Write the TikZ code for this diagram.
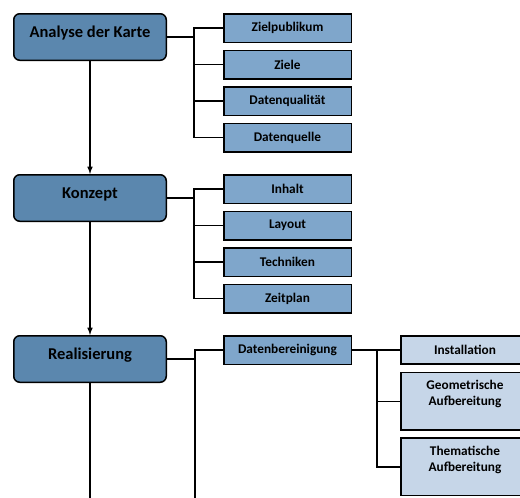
\documentclass[tikz,border=0pt]{standalone}
\usepackage{fontspec}
\setmainfont{Carlito}
\usetikzlibrary{shapes,positioning}
\definecolor{hauptblau}{RGB}{91,135,174}
\definecolor{teilblau}{RGB}{127,166,203}
\definecolor{hellblau}{RGB}{198,214,232}
\tikzstyle{haupt}=[rectangle, rounded corners=6pt, draw, line width=1.5pt, fill=hauptblau,
    minimum width=152.5pt, minimum height=46.5pt, text height=12pt, text depth=12pt,
    font=\fontsize{16.5}{20}\selectfont\bfseries]
\tikzstyle{teil}=[rectangle, draw, line width=1.5pt, fill=teilblau,
    minimum width=127.5pt, minimum height=28.5pt,
    font=\fontsize{13.3}{16}\selectfont\bfseries]
\tikzstyle{unter}=[rectangle, draw, line width=1.5pt, fill=hellblau, align=center,
    minimum width=128.5pt, minimum height=28pt,
    font=\fontsize{13.3}{16}\selectfont\bfseries]

\begin{document}
\begin{tikzpicture}[x=1pt,y=-1pt,line width=1.5pt]

        \useasboundingbox (0,0) rectangle (520,498);
        \clip (0,0) rectangle (520,498);
        \coordinate (unten) at (0,498);

        \node[haupt,
            anchor=north west] (analyse) at (13,13) {Analyse der Karte};

        \node[haupt,
            below=113pt of analyse] (konzept) {Konzept};

        \node[haupt,
            below=113pt of konzept] (realisierung) {Realisierung};

        % Analyse
        \node[teil,
            below right=0pt and 56pt of analyse.north east] (zielpublikum) {Zielpublikum};
        \node[teil,
            below=6.5pt of zielpublikum] (ziele) {Ziele};
        \node[teil,
            below=6.5pt of ziele] (datenqualitaet) {Datenqualität};
        \node[teil,
            below=6.5pt of datenqualitaet] (datenquelle) {Datenquelle};

        % Konzept
        \node[teil,
            below right=0pt and 56pt of konzept.north east] (inhalt) {Inhalt};
        \node[teil,
            below=6.5pt of inhalt] (layout) {Layout};
        \node[teil,
            below=6.5pt of layout] (techniken) {Techniken};
        \node[teil,
            below=6.5pt of techniken] (zeitplan) {Zeitplan};

        % Realisierung
        \node[teil,
            below right=0pt and 56pt of realisierung.north east] (datenbereinigung) {Datenbereinigung};
        \node[unter,
            right=48pt of datenbereinigung] (installation) {Installation};
        \node[unter,
            below=7pt of installation,
            minimum height=57.5pt] (geometrisch) {Geometrische\\Aufbereitung\\\mbox{}};
        \node[unter,
            below=6.5pt of geometrisch,
            minimum height=57.5pt] (thematisch) {Thematische\\Aufbereitung\\\mbox{}};

% Arrows
        \draw[-latex] (analyse) -- (konzept);
        \draw[-latex] (konzept) -- (realisierung);
        \draw (realisierung) -- (realisierung.south |- unten);

        \draw (analyse.east) -- ++(27,0) coordinate (knoten1);
        \draw (knoten1) |- (zielpublikum.west);
        \draw (knoten1) |- (ziele.west);
        \draw (knoten1) |- (datenqualitaet.west);
        \draw (knoten1) |- (datenquelle.west);

        \draw (konzept.east) -- ++(27,0) coordinate (knoten2);
        \draw (knoten2) |- (inhalt.west);
        \draw (knoten2) |- (layout.west);
        \draw (knoten2) |- (techniken.west);
        \draw (knoten2) |- (zeitplan.west);

        \draw (realisierung.east) -- ++(28,0) coordinate (knoten3);
        \draw (knoten3) |- (datenbereinigung.west);
        \draw (knoten3 |- datenbereinigung.west) -- (knoten3 |- unten);

        \draw (datenbereinigung.east) -- ++(25,0) coordinate (knoten4);
        \draw (knoten4) |- (installation.west);
        \draw (knoten4) |- (geometrisch.west);
        \draw (knoten4) |- (thematisch.west);

    \end{tikzpicture}
\end{document}
